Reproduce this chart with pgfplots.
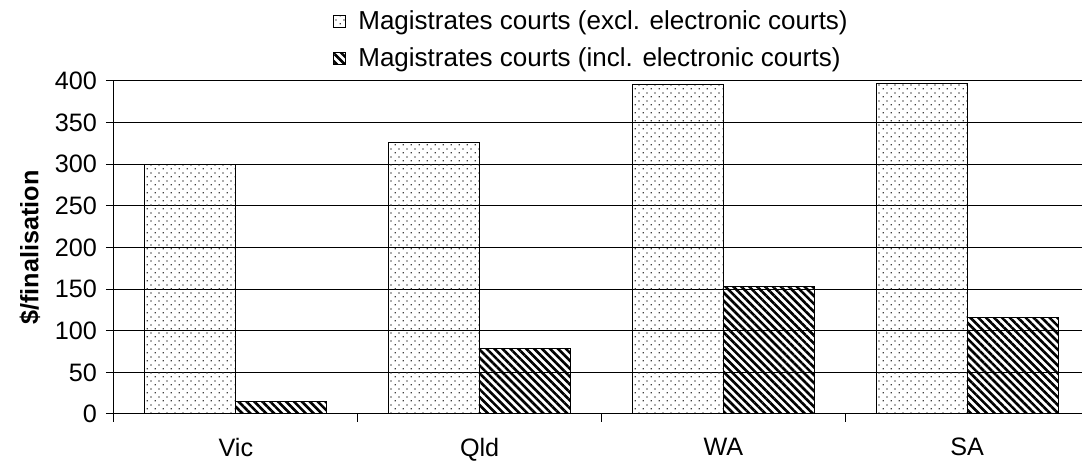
\documentclass[border=0pt]{standalone}
\usepackage{fontspec}
\setmainfont{Liberation Sans}
\usepackage{pgfplots}
\usepackage{pgfplotstable}
\pgfplotsset{compat=1.18}
\usetikzlibrary{patterns,patterns.meta}

\pgfdeclarepatternformonly{xdots}{\pgfqpoint{0pt}{0pt}}{\pgfqpoint{3.85pt}{3.85pt}}{\pgfqpoint{3.85pt}{3.85pt}}{%
  \pgfpathrectangle{\pgfqpoint{0.3pt}{0.3pt}}{\pgfqpoint{0.65pt}{0.65pt}}%
  \pgfpathrectangle{\pgfqpoint{2.22pt}{2.22pt}}{\pgfqpoint{0.65pt}{0.65pt}}%
  \pgfusepath{fill}%
}

\pgfplotstableread{
x excl incl
0 300 15
1 326 79
2 396 153
3 397 116
}\datatable

\begin{document}
\begin{tikzpicture}
\useasboundingbox (-57pt,-25pt) rectangle (484pt,207pt);
\begin{axis}[
  scale only axis, width=487.5pt, height=166.5pt,
  xmin=-0.5, xmax=3.5, ymin=0, ymax=400,
  ytick={0,50,...,400},
  xtick={-0.5,0.5,1.5,2.5,3.5},
  xticklabels={Vic,Qld,WA,SA},
  x tick label as interval,
  axis lines*=left,
  axis line style={black, line width=0.5pt},
  tick align=outside, major tick length=4pt,
  tick style={black, line width=0.5pt},
  ymajorgrids, grid style={black, line width=0.5pt},
  ybar=0pt, bar width=45.5pt,
  /pgf/number format/assume math mode=true,
  tick label style={font=\fontsize{12.6}{15}\selectfont},
  yticklabel style={xshift=-1pt},
  xticklabel style={yshift=-4.5pt},
  ylabel={\textbf{\$/finalisation}},
  every axis y label/.style={at={(axis description cs:-0.0862,0.5)}, rotate=90, anchor=center, font=\fontsize{12.6}{15}\selectfont},
  legend style={draw=none, fill=none, at={(axis description cs:0.2246,1)}, anchor=north west, yshift=35.5pt,
     font=\fontsize{13}{15.6}\selectfont, inner sep=0pt, row sep=6pt,
     nodes={inner sep=0pt, text height=9.5pt, text depth=3pt},
     /tikz/every odd column/.append style={column sep=6pt}},
  legend cell align=left,
  mylegend/.style={legend image code/.code={\draw[##1, line width=0.5pt] (0pt,-2.2pt) rectangle (6pt,3.8pt);}},
]
\addplot[draw=black, line width=0.5pt, pattern=xdots, pattern color=black!75, mylegend] table[x=x,y=excl]{\datatable};
\addplot[draw=black, line width=0.5pt, pattern={Lines[angle=-45,distance=2.8pt,line width=1.3pt]}, pattern color=black, mylegend] table[x=x,y=incl]{\datatable};
\legend{Magistrates courts (excl. electronic courts),Magistrates courts (incl. electronic courts)}
\end{axis}
\end{tikzpicture}
\end{document}
